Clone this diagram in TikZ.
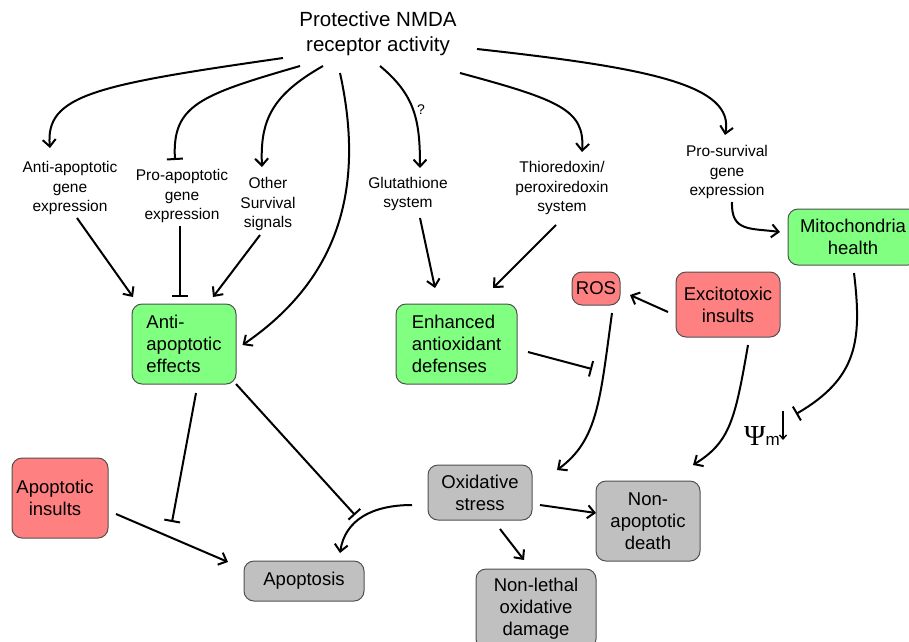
\documentclass[tikz,border=0pt]{standalone}
\usepackage{fontspec}
\setmainfont{Liberation Sans}
\newfontfamily\psifont{Liberation Serif}
\usetikzlibrary{arrows.meta}
\definecolor{gbox}{HTML}{80FF80}
\definecolor{rbox}{HTML}{FF8080}
\definecolor{kbox}{HTML}{C0C0C0}
\definecolor{edgegray}{HTML}{505050}
\tikzset{
  lbl/.style={align=center,inner sep=0pt,font=\fontsize{15.5}{19.5}\selectfont},
  box/.style={draw=edgegray,line width=1pt,rounded corners=10pt,inner sep=0pt,
    font=\fontsize{18.5}{22}\selectfont},
  gb/.style={box,fill=gbox},
  rb/.style={box,fill=rbox},
  kb/.style={box,fill=kbox},
  conn/.style={line width=2pt,-{Straight Barb[length=7pt,width=13pt]}},
  inh/.style={line width=2pt,-{Bar[width=16pt,line width=2pt]}},
}
\begin{document}
\begin{tikzpicture}[x=1pt,y=-1pt]
\clip (0,0) rectangle (909,641);
\fill[white] (0,0) rectangle (909,641);
% text labels
\node[align=center,inner sep=0pt,font=\fontsize{20.5}{25}\selectfont] (title) at (378,34) {Protective NMDA\\receptor activity};
\node[lbl] (aage) at (70,188) {Anti-apoptotic\\gene\\expression};
\node[lbl] (page) at (182,196) {Pro-apoptotic\\gene\\expression};
\node[lbl] (oss) at (268,204) {Other\\Survival\\signals};
\node[lbl] (glu) at (408,194) {Glutathione\\system};
\node[lbl] (thio) at (562,188) {Thioredoxin/\\peroxiredoxin\\system};
\node[lbl] (psge) at (727,172) {Pro-survival\\gene\\expression};
% boxes
\node[gb,minimum width=104pt,minimum height=80pt,align=left] (aae) at (184,344) {Anti-\\apoptotic\\effects};
\node[gb,minimum width=121pt,minimum height=80pt,align=left] (ead) at (456.5,344) {Enhanced\\antioxidant\\defenses};
\node[rb,minimum width=48pt,minimum height=33pt] (ros) at (596,288.5) {ROS};
\node[rb,minimum width=104pt,minimum height=65pt,align=center] (exc) at (728,304.5) {Excitotoxic\\insults};
\node[gb,minimum width=130pt,minimum height=56pt,align=center] (mito) at (853,237) {Mitochondria\\health};
\node[rb,minimum width=96pt,minimum height=80pt,align=center] (apins) at (60,498) {Apoptotic\hspace*{10pt}\mbox{}\\insults\hspace*{10pt}\mbox{}};
\node[kb,minimum width=120pt,minimum height=40pt] (apop) at (304,581) {Apoptosis};
\node[kb,minimum width=104pt,minimum height=55pt,align=center] (oxs) at (480,492.5) {Oxidative\\stress};
\node[kb,minimum width=104pt,minimum height=80pt,align=center] (nad) at (648,521) {Non-\\apoptotic\\death};
\node[kb,minimum width=120pt,minimum height=80pt,align=center] (nlod) at (536,609) {Non-lethal\\oxidative\\damage};
\node[inner sep=0pt,anchor=center] (psi) at (762,436) {{\psifont\fontsize{29}{29}\selectfont Ψ}{\fontsize{17}{17}\selectfont m}};
\coordinate (psitop) at ([shift={(21,-25)}]psi.center);
\coordinate (psibot) at ([shift={(21,4)}]psi.center);
\coordinate (mbar) at ([shift={(34,-22)}]psi.center);
\coordinate (obar) at ([shift={(135.5,25)}]ead.center);
\coordinate (abar1) at ([shift={(-132,-59)}]apop.center);
\coordinate (abar2) at ([shift={(51,-66)}]apop.center);
% connectors from title
\draw[conn] ([shift={(-95,24)}]title.center) .. controls (95,85) and (45,95) .. ([shift={(-20,-40)}]aage.center);
\draw[inh] ([shift={(-78,32)}]title.center) .. controls (200,95) and (172,105) .. ([shift={(-7,-36)}]page.center);
\draw[conn] ([shift={(-55,32)}]title.center) .. controls (272,95) and (260,120) .. ([shift={(-6,-37)}]oss.center);
\draw[conn] ([shift={(-38,39)}]title.center) .. controls (368,200) and (330,285) .. ([shift={(6,1)}]aae.east);
\draw[conn] ([shift={(2,32)}]title.center) .. controls (415,95) and (420,120) .. node[pos=0.5,right=3pt,inner sep=0pt,font=\fontsize{14}{14}\selectfont] (q) {?} ([shift={(12,-26)}]glu.center);
\draw[conn] ([shift={(82,39)}]title.center) .. controls (560,100) and (585,110) .. ([shift={(20,-36)}]thio.center);
\draw[conn] ([shift={(99,15)}]title.center) .. controls (650,68) and (735,85) .. ([shift={(-2,-37)}]psge.center);
% to anti-apoptotic effects
\draw[conn] ([shift={(7,30)}]aage.center) -- ([shift={(-51,-47)}]aae.center);
\draw[inh] ([shift={(-2,30)}]page.center) -- ([shift={(-4,-47)}]aae.center);
\draw[conn] ([shift={(-8,31)}]oss.center) -- ([shift={(29,-47)}]aae.center);
% to enhanced antioxidant defenses
\draw[conn] ([shift={(12,24)}]glu.center) -- ([shift={(-21.5,-56)}]ead.center);
\draw[conn] ([shift={(-6,37)}]thio.center) -- ([shift={(36.5,-56)}]ead.center);
% pro-survival to mitochondria
\draw[conn] ([shift={(5,30)}]psge.center) .. controls (731,232) and (750,228) .. ([shift={(-73,-5)}]mito.center);
% excitotoxic to ROS
\draw[conn] ([shift={(-60,7.5)}]exc.center) -- ([shift={(34,6.5)}]ros.center);
% ROS to oxidative stress
\draw[conn] ([shift={(16,24.5)}]ros.center) .. controls (600,400) and (598,440) .. ([shift={(77,-22.5)}]oxs.center);
% enhanced defenses inhibit
\draw[inh] ([shift={(71.5,8)}]ead.center) -- (obar);
% excitotoxic to non-apoptotic death
\draw[conn] ([shift={(20,40.5)}]exc.center) .. controls (735,420) and (730,442) .. ([shift={(45,-56)}]nad.center);
% mitochondria inhibit psi
\draw[inh] ([shift={(1,36)}]mito.center) .. controls (862,340) and (858,378) .. (mbar);
\draw[line width=1.4pt,-{Straight Barb[length=4pt,width=7pt]}] (psitop) -- (psibot);
% anti-apoptotic effects inhibit
\draw[inh] ([shift={(12,49)}]aae.center) -- (abar1);
\draw[inh] ([shift={(52,40)}]aae.center) -- (abar2);
% oxidative stress outputs
\draw[conn] ([shift={(-68,12.5)}]oxs.center) .. controls (372,505) and (345,520) .. ([shift={(36,-28)}]apop.center);
\draw[conn] ([shift={(56,16)}]apins.center) -- ([shift={(-76,-19)}]apop.center);
\draw[conn] ([shift={(60,12.5)}]oxs.center) -- ([shift={(-52,-8)}]nad.center);
\draw[conn] ([shift={(20,36.5)}]oxs.center) -- ([shift={(-12,-49)}]nlod.center);
\end{tikzpicture}
\end{document}
